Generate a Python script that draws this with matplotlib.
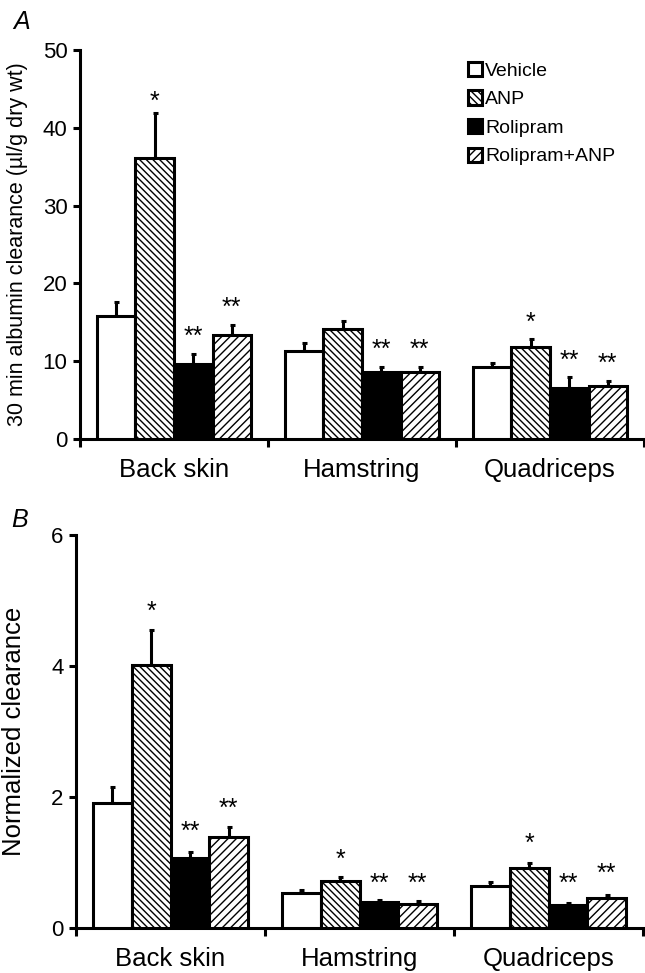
import matplotlib
matplotlib.use("Agg")
import matplotlib.pyplot as plt
from matplotlib.patches import Patch
import numpy as np

plt.rcParams['font.family'] = ['Liberation Sans', 'DejaVu Sans']
plt.rcParams['hatch.linewidth'] = 1.0

categories = ["Back skin", "Hamstring", "Quadriceps"]
groups = ["Vehicle", "ANP", "Rolipram", "Rolipram+ANP"]

# Panel A: 30 min albumin clearance (mean, mean+SE)
a_vehicle = [15.8, 11.3, 9.2]
a_anp = [36.1, 14.1, 11.8]
a_rolipram = [9.6, 8.6, 6.5]
a_rolanp = [13.4, 8.6, 6.8]
a_vehicle_top = [17.6, 12.3, 9.8]
a_anp_top = [41.9, 15.2, 12.8]
a_rolipram_top = [10.9, 9.3, 8.0]
a_rolanp_top = [14.7, 9.2, 7.5]
a_stars = [["", "*", "**", "**"], ["", "", "**", "**"], ["", "*", "**", "**"]]
a_star_y = [[0, 44.2, 14.0, 17.7], [0, 0, 12.3, 12.3], [0, 15.8, 10.9, 10.5]]

# Panel B: normalized clearance
b_vehicle = [1.91, 0.53, 0.64]
b_anp = [4.02, 0.72, 0.91]
b_rolipram = [1.07, 0.40, 0.35]
b_rolanp = [1.39, 0.37, 0.46]
b_vehicle_top = [2.15, 0.58, 0.70]
b_anp_top = [4.55, 0.78, 1.00]
b_rolipram_top = [1.16, 0.43, 0.38]
b_rolanp_top = [1.54, 0.41, 0.51]
b_stars = [["", "*", "**", "**"], ["", "*", "**", "**"], ["", "*", "**", "**"]]
b_star_y = [[0, 4.93, 1.57, 1.92], [0, 1.14, 0.78, 0.78], [0, 1.39, 0.78, 0.93]]

styles = [dict(facecolor="white", hatch=None),
          dict(facecolor="white", hatch="\\\\\\\\\\"),
          dict(facecolor="black", hatch=None),
          dict(facecolor="white", hatch="////")]

W, H = 645, 973
fig = plt.figure(figsize=(W / 100, H / 100), dpi=100)

LW = 2.2
TICK_FS = 16
CAT_FS = 18.5
STAR_FS = 18


def panel(rect, means, tops, stars, star_y, ylim, yticks, ylabel, ylabel_fs):
    ax = fig.add_axes(rect)
    width = 0.205
    x0 = np.arange(len(categories)) + 0.5
    for i, (m, t) in enumerate(zip(means, tops)):
        xs = x0 + (i - 1.5) * width
        st = styles[i]
        ax.bar(xs, m, width=width, color=st["facecolor"], edgecolor="black",
               linewidth=LW, hatch=st["hatch"], zorder=3)
        err = np.array(t) - np.array(m)
        ax.errorbar(xs, m, yerr=[np.zeros_like(err), err], fmt="none",
                    ecolor="black", elinewidth=LW, capsize=1.8, capthick=LW,
                    zorder=2)
    for c in range(len(categories)):
        for i in range(4):
            s = stars[c][i]
            if s:
                ax.annotate(s, xy=(x0[c] + (i - 1.5) * width, star_y[c][i]),
                            xytext=(0, -5), textcoords="offset points",
                            ha="center", va="center", fontsize=STAR_FS)
    ax.set_xlim(0, 3)
    ax.set_ylim(*ylim)
    ax.set_yticks(yticks)
    ax.set_xticks([0, 1, 2, 3])
    ax.set_xticklabels([])
    ax.set_xticks(x0, minor=True)
    ax.set_xticklabels(categories, minor=True, fontsize=CAT_FS)
    ax.tick_params(axis="x", which="minor", length=0, pad=14)
    ax.tick_params(axis="x", which="major", direction="out", length=6, width=LW)
    ax.tick_params(axis="y", direction="out", length=5, width=LW,
                   labelsize=TICK_FS, pad=4)
    for sp in ["top", "right"]:
        ax.spines[sp].set_visible(False)
    for sp in ["left", "bottom"]:
        ax.spines[sp].set_linewidth(LW)
    ax.set_ylabel(ylabel, fontsize=ylabel_fs)
    ax.patch.set_alpha(0)
    return ax


def frac(left, top, right, bottom):
    return [left / W, 1 - bottom / H, (right - left) / W, (bottom - top) / H]


axA = panel(frac(80, 50, 644, 439),
            [a_vehicle, a_anp, a_rolipram, a_rolanp],
            [a_vehicle_top, a_anp_top, a_rolipram_top, a_rolanp_top],
            a_stars, a_star_y, (0, 50), [0, 10, 20, 30, 40, 50],
            "30 min albumin clearance (\u00b5l/g dry wt)", 15.5)
axA.yaxis.set_label_coords(-0.092, 0.5)

axB = panel(frac(76, 535, 643, 928),
            [b_vehicle, b_anp, b_rolipram, b_rolanp],
            [b_vehicle_top, b_anp_top, b_rolipram_top, b_rolanp_top],
            b_stars, b_star_y, (0, 6), [0, 2, 4, 6],
            "Normalized clearance", 18.5)
axB.yaxis.set_label_coords(-0.088, 0.5)

handles = [Patch(facecolor=s["facecolor"], edgecolor="black", linewidth=LW,
                 hatch=s["hatch"]) for s in styles]
fig.legend(handles, groups, loc="upper left", bbox_to_anchor=(458 / W, 1 - 52 / H),
           frameon=False, fontsize=14, handlelength=0.75, handleheight=0.75,
           handletextpad=0.15, labelspacing=0.55, borderpad=0)

fig.text(22 / W, 1 - 22 / H, "A", fontsize=18, style="italic", ha="center", va="center")
fig.text(20 / W, 1 - 520 / H, "B", fontsize=18, style="italic", ha="center", va="center")

fig.savefig("out.png", dpi=100)
